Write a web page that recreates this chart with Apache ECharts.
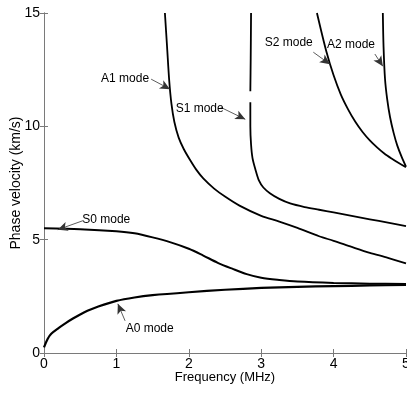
<!DOCTYPE html>
<html>
<head>
<meta charset="utf-8">
<script src="https://cdn.jsdelivr.net/npm/echarts@6/dist/echarts.min.js"></script>
<style>
  html, body { margin: 0; padding: 0; background: #fff; }
  #chart { width: 407px; height: 394px; }
</style>
</head>
<body>
<div id="chart"></div>
<script>
// dispersion curves: [frequency MHz, phase velocity km/s]
const a0Mode = [[0, 0.25], [0.05, 0.62], [0.1, 0.85], [0.2, 1.1], [0.3, 1.32], [0.4, 1.52], [0.5, 1.7],
  [0.6, 1.86], [0.75, 2.05], [1.0, 2.3], [1.25, 2.45], [1.5, 2.55], [2.0, 2.68], [2.5, 2.79],
  [3.0, 2.87], [3.5, 2.92], [4.0, 2.95], [4.5, 2.98], [5.0, 3.0]];
const s0Mode = [[0, 5.5], [0.5, 5.46], [1.0, 5.37], [1.25, 5.28], [1.5, 5.1], [1.75, 4.88], [2.0, 4.6],
  [2.2, 4.3], [2.4, 3.98], [2.6, 3.72], [2.8, 3.48], [3.0, 3.32], [3.25, 3.22], [3.5, 3.15],
  [4.0, 3.09], [4.5, 3.06], [5.0, 3.04]];
const a1Mode = [[1.67, 15], [1.7, 13.5], [1.73, 12], [1.76, 11], [1.8, 10.2], [1.86, 9.5], [1.93, 9],
  [2.02, 8.5], [2.1, 8.1], [2.2, 7.7], [2.35, 7.25], [2.5, 6.9], [2.7, 6.5], [3.0, 6.05], [3.25, 5.8],
  [3.5, 5.52], [3.8, 5.15], [4.0, 4.95], [4.25, 4.68], [4.5, 4.42], [4.75, 4.2], [5.0, 3.95]];
const s1Mode = [[2.86, 15], [2.855, 13], [2.85, 11.55], null, [2.85, 11.06], [2.85, 10], [2.86, 9.2],
  [2.88, 8.6], [2.92, 8.1], [2.97, 7.6], [3.03, 7.3], [3.12, 7.05], [3.25, 6.8], [3.4, 6.6],
  [3.6, 6.44], [3.8, 6.32], [4.0, 6.2], [4.25, 6.05], [4.5, 5.9], [4.75, 5.75], [5.0, 5.6]];
const s2Mode = [[3.77, 15], [3.9, 13.3], [4.0, 12.25], [4.1, 11.4], [4.2, 10.75], [4.3, 10.2],
  [4.4, 9.75], [4.5, 9.38], [4.6, 9.07], [4.7, 8.8], [4.8, 8.58], [4.9, 8.38], [5.0, 8.2]];
const a2Mode = [[4.68, 15], [4.69, 13.5], [4.71, 12.1], [4.74, 11.2], [4.78, 10.4], [4.83, 9.7],
  [4.88, 9.15], [4.94, 8.65], [5.0, 8.22]];

// annotations: label, text position, arrow tail, arrow tip (data units)
const labelNames = ["A1 mode", "S1 mode", "S2 mode", "A2 mode", "S0 mode", "A0 mode"];
const labelPos = [[1.12, 12.08], [2.15, 10.8], [3.38, 13.67], [4.24, 13.58], [0.86, 5.88], [1.46, 1.06]];
const arrowTail = [[1.48, 12.08], [2.44, 10.84], [3.72, 13.27], [4.57, 13.19], [0.54, 5.84], [1.12, 1.42]];
const arrowTip = [[1.74, 11.64], [2.78, 10.31], [3.95, 12.74], [4.68, 12.65], [0.19, 5.44], [1.02, 2.17]];

const xTicks = { min: 0, max: 5, interval: 1 };
const yTicks = { min: 0, max: 15, interval: 5 };

const FONT = "Liberation Sans, Arial, sans-serif";
const chart = echarts.init(document.getElementById("chart"));

const curve = (name, data, width) => ({
  name: name,
  type: "line",
  data: data,
  smooth: 0.3,
  showSymbol: false,
  connectNulls: false,
  lineStyle: { color: "#000", width: width },
  animation: false,
  silent: true
});

const series = [
  curve("A0", a0Mode, 2.2),
  curve("S0", s0Mode, 2),
  curve("A1", a1Mode, 1.8),
  curve("S1", s1Mode, 1.8),
  curve("S2", s2Mode, 1.8),
  curve("A2", a2Mode, 1.8)
];

// arrows and texts
series.push({
  type: "line",
  data: [],
  animation: false,
  silent: true,
  markLine: {
    silent: true,
    animation: false,
    symbol: ["none", "arrow"],
    symbolSize: [7, 10],
    label: { show: false },
    lineStyle: { color: "#333", width: 0.8, type: "solid" },
    itemStyle: { color: "#000" },
    emphasis: { disabled: true },
    data: arrowTail.map((t, i) => [{ coord: t }, { coord: arrowTip[i] }])
  },
  markPoint: {
    silent: true,
    animation: false,
    symbol: "circle",
    symbolSize: 0,
    label: {
      show: true,
      position: "inside",
      color: "#000",
      fontFamily: FONT,
      fontSize: 12,
      formatter: (p) => p.name
    },
    data: labelNames.map((n, i) => ({ name: n, coord: labelPos[i] }))
  }
});

const gridLine = "#7a7a7a";

chart.setOption({
  animation: false,
  grid: { left: 44, right: 1, top: 13, bottom: 41, containLabel: false, outerBoundsMode: "none" },
  xAxis: [
    {
      type: "value",
      min: xTicks.min, max: xTicks.max, interval: xTicks.interval,
      name: "Frequency (MHz)",
      nameLocation: "middle",
      nameGap: 18,
      nameMoveOverlap: false,
      nameTextStyle: { color: "#000", fontFamily: FONT, fontSize: 13, verticalAlign: "top" },
      axisLine: { show: true, lineStyle: { color: gridLine, width: 1 } },
      axisTick: { show: true, inside: true, length: 4, lineStyle: { color: gridLine } },
      axisLabel: { color: "#000", fontFamily: FONT, fontSize: 14, margin: 4 },
      splitLine: { show: false }
    },
    {
      type: "value", position: "top",
      min: xTicks.min, max: xTicks.max, interval: xTicks.interval,
      axisLine: { show: true, lineStyle: { color: gridLine, width: 1 } },
      axisTick: { show: true, inside: true, length: 4, lineStyle: { color: gridLine } },
      axisLabel: { show: false },
      splitLine: { show: false }
    }
  ],
  yAxis: [
    {
      type: "value",
      min: yTicks.min, max: yTicks.max, interval: yTicks.interval,
      name: "Phase velocity (km/s)",
      nameLocation: "middle",
      nameGap: 21,
      nameMoveOverlap: false,
      nameTextStyle: { color: "#000", fontFamily: FONT, fontSize: 14 },
      axisLine: { show: true, lineStyle: { color: gridLine, width: 1 } },
      axisTick: { show: true, inside: true, length: 4, lineStyle: { color: gridLine } },
      axisLabel: { color: "#000", fontFamily: FONT, fontSize: 14, margin: 4 },
      splitLine: { show: false }
    },
    {
      type: "value", position: "right",
      min: yTicks.min, max: yTicks.max, interval: yTicks.interval,
      axisLine: { show: true, lineStyle: { color: gridLine, width: 1 } },
      axisTick: { show: true, inside: true, length: 4, lineStyle: { color: gridLine } },
      axisLabel: { show: false },
      splitLine: { show: false }
    }
  ],
  series
});
</script>
</body>
</html>
